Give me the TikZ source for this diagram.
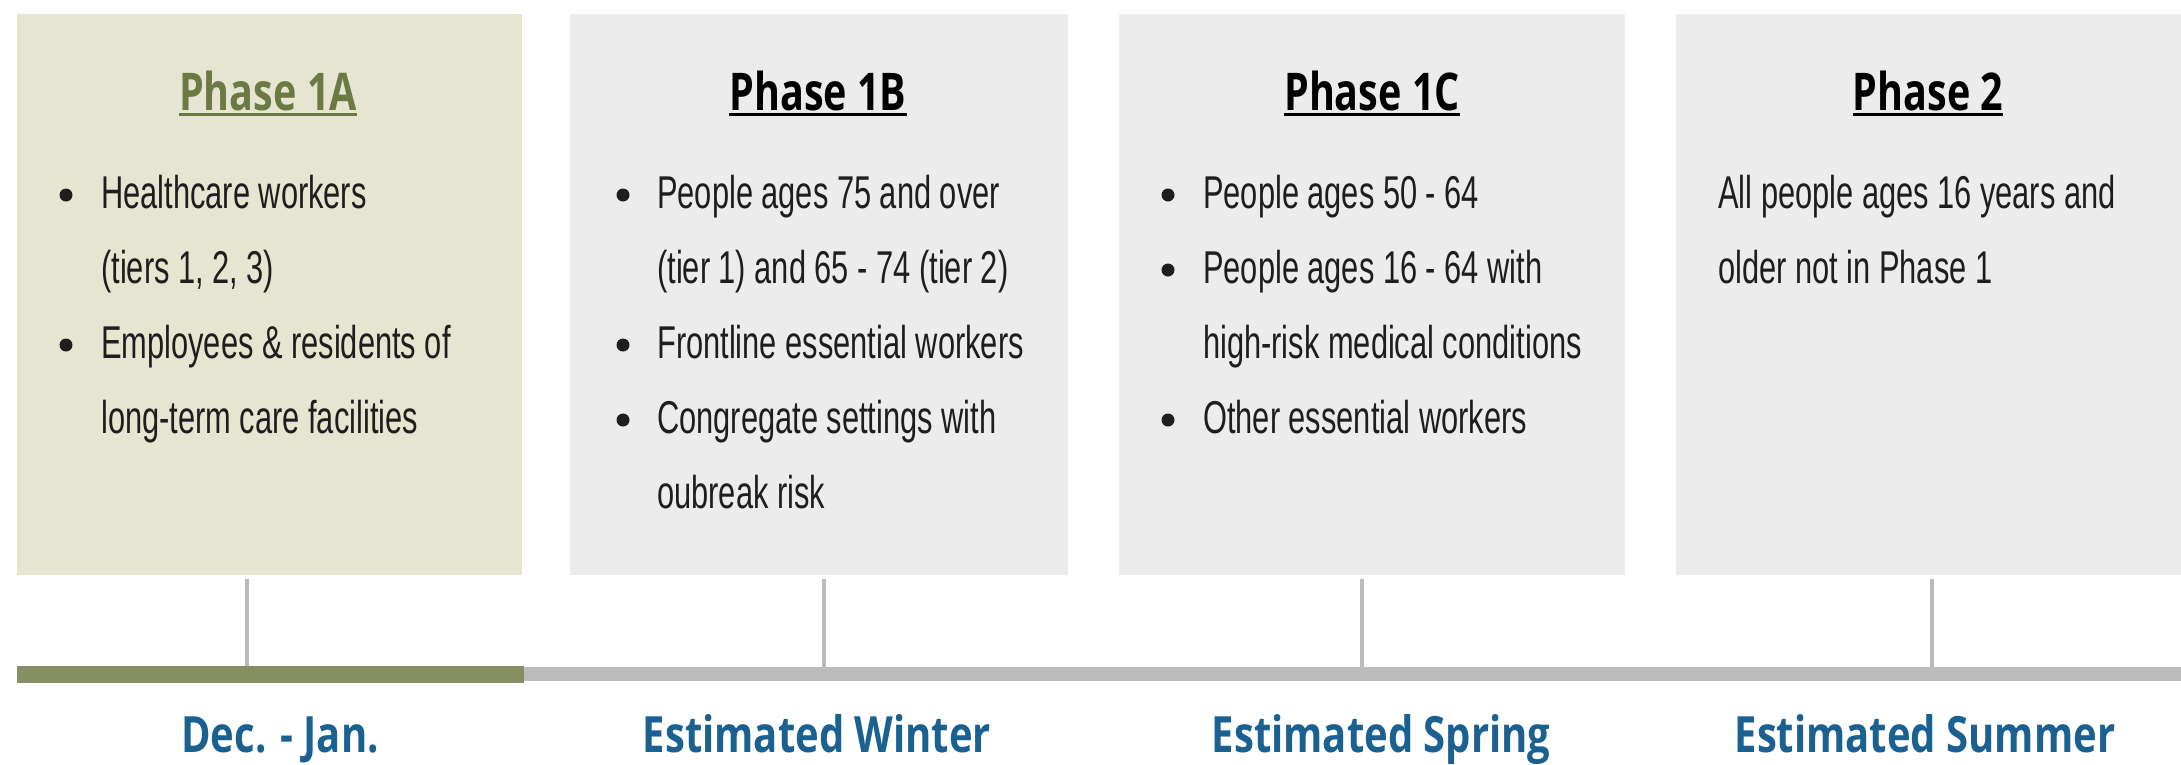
\documentclass[tikz,border=0pt]{standalone}
\usepackage{fontspec}
\setmainfont[FakeStretch=0.67]{Liberation Sans}
\newfontfamily\titlefont[FakeStretch=0.76]{Open Sans Bold}
\newfontfamily\labelfont[FakeStretch=0.8]{Open Sans Bold}
\definecolor{beigebox}{HTML}{E6E5D2}
\definecolor{graybox}{HTML}{ECECEC}
\definecolor{olivebar}{HTML}{858F62}
\definecolor{graybar}{HTML}{BBBBBB}
\definecolor{olivetext}{HTML}{6B7A43}
\definecolor{bluetext}{HTML}{1A6090}
\definecolor{bodytext}{HTML}{1E1E1E}
\begin{document}
\begin{tikzpicture}[x=1pt,y=-1pt,
  phasebox/.style={anchor=north west, inner sep=0, minimum width=505, minimum height=561, draw=none},
  phasetitle/.style={anchor=base, inner sep=0, font=\titlefont\fontsize{52}{60}\selectfont},
  bodyline/.style={anchor=base west, inner sep=0, text=bodytext, font=\fontsize{46}{75}\selectfont},
  bulletdot/.style={circle, fill=bodytext, inner sep=0, minimum size=13},
  ticktl/.style={draw=graybar, line width=4},
  datelabel/.style={anchor=base, inner sep=0, text=bluetext, font=\labelfont\fontsize{50}{60}\selectfont}]
\useasboundingbox (0,0) rectangle (2181,764);
\fill[white] (0,0) rectangle (2181,764);
% boxes
\node[phasebox, fill=beigebox, minimum width=505] (b1) at (17,14) {};
\node[phasebox, fill=graybox, minimum width=498] (b2) at (570,14) {};
\node[phasebox, fill=graybox, minimum width=506] (b3) at (1119,14) {};
\node[phasebox, fill=graybox, minimum width=505] (b4) at (1676,14) {};
% titles
\node[phasetitle, text=olivetext] (h1) at (268,110) {Phase 1A};
\node[phasetitle, text=black] (h2) at (818,110) {Phase 1B};
\node[phasetitle, text=black] (h3) at (1372,110) {Phase 1C};
\node[phasetitle, text=black] (h4) at (1928,110) {Phase 2};
\draw[olivetext, line width=3] ([yshift=-4]h1.base west) -- ([yshift=-4]h1.base east);
\draw[black, line width=3] ([yshift=-4]h2.base west) -- ([yshift=-4]h2.base east);
\draw[black, line width=3] ([yshift=-4]h3.base west) -- ([yshift=-4]h3.base east);
\draw[black, line width=3] ([yshift=-4]h4.base west) -- ([yshift=-4]h4.base east);
% box 1
\node[bulletdot] (d11) at (66,195) {};
\node[bodyline] (l11) at (101,208) {Healthcare workers};
\node[bodyline] (l12) at (101,283) {(tiers 1, 2, 3)};
\node[bulletdot] (d13) at (66,345) {};
\node[bodyline] (l13) at (101,358) {Employees \& residents of};
\node[bodyline] (l14) at (101,433) {long-term care facilities};
% box 2
\node[bulletdot] (d21) at (623,195) {};
\node[bodyline] (l21) at (657,208) {People ages 75 and over};
\node[bodyline] (l22) at (657,283) {(tier 1) and 65 - 74 (tier 2)};
\node[bulletdot] (d23) at (623,345) {};
\node[bodyline] (l23) at (657,358) {Frontline essential workers};
\node[bulletdot] (d24) at (623,420) {};
\node[bodyline] (l24) at (657,433) {Congregate settings with};
\node[bodyline] (l25) at (657,508) {oubreak risk};
% box 3
\node[bulletdot] (d31) at (1168,195) {};
\node[bodyline] (l31) at (1203,208) {People ages 50 - 64};
\node[bulletdot] (d32) at (1168,270) {};
\node[bodyline] (l32) at (1203,283) {People ages 16 - 64 with};
\node[bodyline] (l33) at (1203,358) {high-risk medical conditions};
\node[bulletdot] (d34) at (1168,420) {};
\node[bodyline] (l34) at (1203,433) {Other essential workers};
% box 4
\node[bodyline] (l41) at (1718,208) {All people ages 16 years and};
\node[bodyline] (l42) at (1718,283) {older not in Phase 1};
% ticks
\coordinate (k1a) at (247,579); \coordinate (k1b) at (247,670);
\coordinate (k2a) at (824,579); \coordinate (k2b) at (824,670);
\coordinate (k3a) at (1362,579); \coordinate (k3b) at (1362,670);
\coordinate (k4a) at (1932,579); \coordinate (k4b) at (1932,670);
\draw[ticktl] (k1a) -- (k1b);
\draw[ticktl] (k2a) -- (k2b);
\draw[ticktl] (k3a) -- (k3b);
\draw[ticktl] (k4a) -- (k4b);
% timeline
\fill[graybar] (524,667) rectangle (2181,681);
\fill[olivebar] (17,666) rectangle (524,683);
% date labels
\node[datelabel] (t1) at (280,752) {Dec. - Jan.};
\node[datelabel] (t2) at (817,752) {Estimated Winter};
\node[datelabel] (t3) at (1381,752) {Estimated Spring};
\node[datelabel] (t4) at (1925,752) {Estimated Summer};
\end{tikzpicture}
\end{document}
